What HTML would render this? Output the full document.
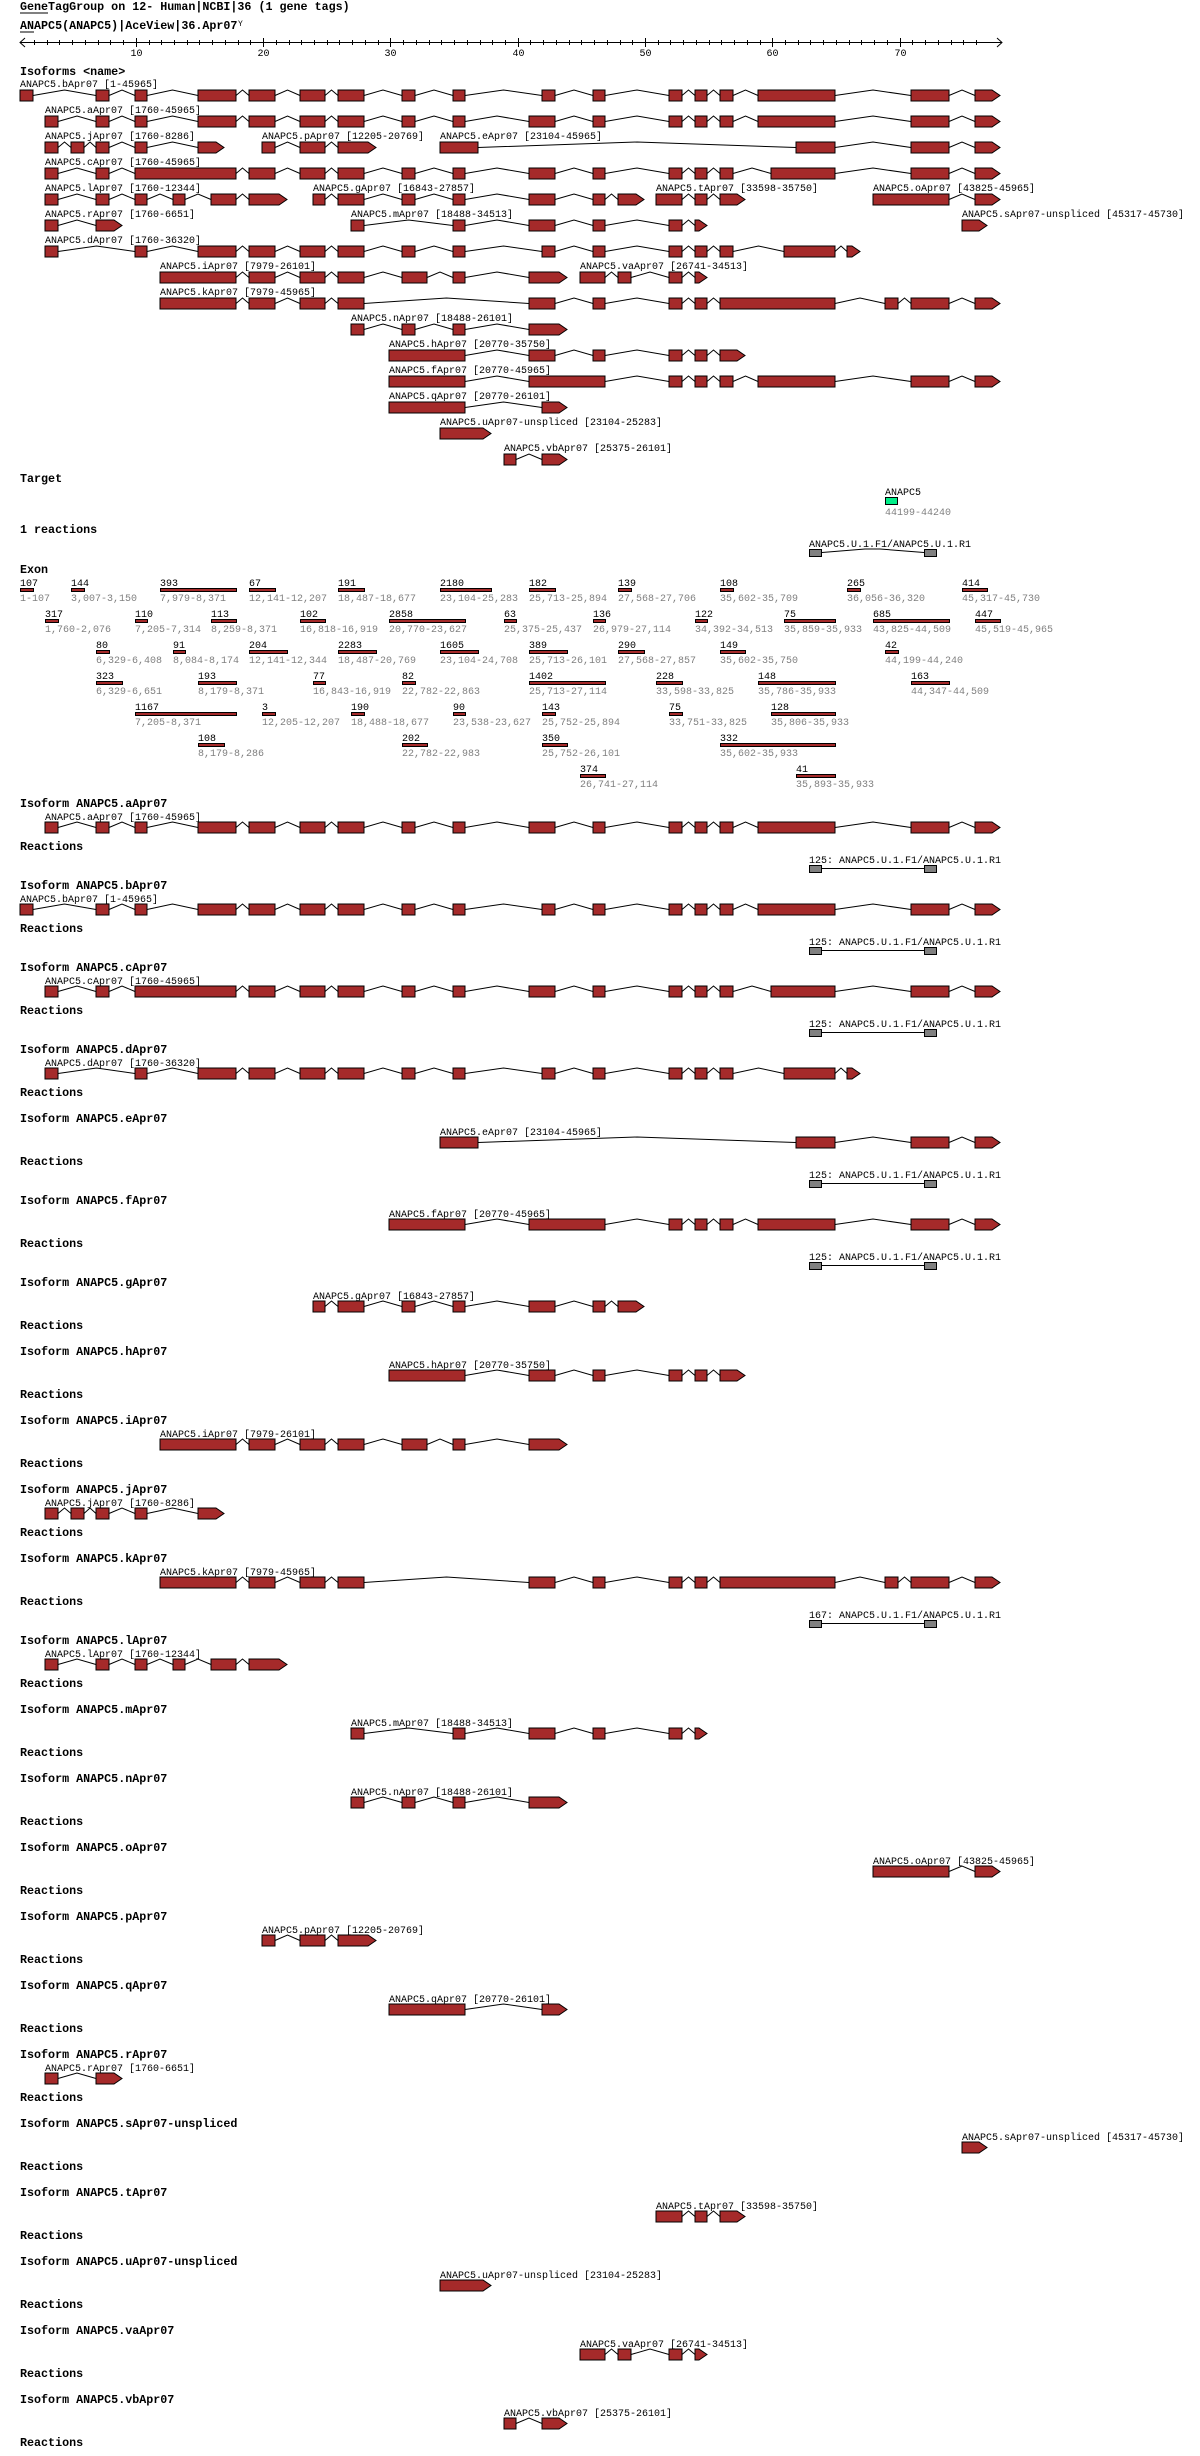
<!DOCTYPE html>
<html><head><meta charset="utf-8">
<style>
html,body{margin:0;padding:0;background:#fff;}
svg{display:block;}
text{font-family:"Liberation Mono",monospace;}
.t{font-size:11.7px;font-weight:bold;fill:#000;}
.l{font-size:10px;fill:#000;}
.g{font-size:10px;fill:#808080;}
</style></head><body>
<div id="c"></div>
<script>
var W=1200,H=2456,o=[];
function T(x,y,s,c){o.push('<text x="'+x+'" y="'+y+'" class="'+c+'">'+s.replace(/</g,'&lt;').replace(/>/g,'&gt;')+'</text>');}
function gene(ex,top,lastArrow){
  var mid=top+5.5,b=top+11;
  for(var i=0;i<ex.length;i++){
    var x0=ex[i][0],x1=ex[i][1];
    if(i<ex.length-1){var nx=ex[i+1][0];var m=(x1+nx)/2;
      o.push('<polyline points="'+x1+','+mid+' '+m+','+top+' '+nx+','+mid+'" fill="none" stroke="#000" stroke-width="1"/>');}
    if(i==ex.length-1&&lastArrow){var a=Math.max(x0,x1-8);
      o.push('<polygon points="'+x0+','+top+' '+a+','+top+' '+x1+','+mid+' '+a+','+b+' '+x0+','+b+'" fill="#a52a2a" stroke="#000" stroke-width="1"/>');}
    else o.push('<rect x="'+x0+'" y="'+top+'" width="'+(x1-x0)+'" height="11" fill="#a52a2a" stroke="#000" stroke-width="1"/>');
  }
}
var I={
a:["ANAPC5.aApr07 [1760-45965]",[[45,58],[96,109],[135,147],[198,236],[249,275],[300,325],[338,364],[402,415],[453,465],[529,555],[593,605],[669,682],[695,707],[720,733],[758,835],[911,949],[975,1000]]],
b:["ANAPC5.bApr07 [1-45965]",[[20,33],[96,109],[135,147],[198,236],[249,275],[300,325],[338,364],[402,415],[453,465],[542,555],[593,605],[669,682],[695,707],[720,733],[758,835],[911,949],[975,1000]]],
c:["ANAPC5.cApr07 [1760-45965]",[[45,58],[96,109],[135,236],[249,275],[300,325],[338,364],[402,415],[453,465],[529,555],[593,605],[669,682],[695,707],[720,733],[771,835],[911,949],[975,1000]]],
d:["ANAPC5.dApr07 [1760-36320]",[[45,58],[135,147],[198,236],[249,275],[300,325],[338,364],[402,415],[453,465],[542,555],[593,605],[669,682],[695,707],[720,733],[784,835],[847,860]]],
e:["ANAPC5.eApr07 [23104-45965]",[[440,478],[796,835],[911,949],[975,1000]]],
f:["ANAPC5.fApr07 [20770-45965]",[[389,465],[529,605],[669,682],[695,707],[720,733],[758,835],[911,949],[975,1000]]],
g:["ANAPC5.gApr07 [16843-27857]",[[313,325],[338,364],[402,415],[453,465],[529,555],[593,605],[618,644]]],
h:["ANAPC5.hApr07 [20770-35750]",[[389,465],[529,555],[593,605],[669,682],[695,707],[720,745]]],
i:["ANAPC5.iApr07 [7979-26101]",[[160,236],[249,275],[300,325],[338,364],[402,427],[453,465],[529,567]]],
j:["ANAPC5.jApr07 [1760-8286]",[[45,58],[71,84],[96,109],[135,147],[198,224]]],
k:["ANAPC5.kApr07 [7979-45965]",[[160,236],[249,275],[300,325],[338,364],[529,555],[593,605],[669,682],[695,707],[720,835],[885,898],[911,949],[975,1000]]],
l:["ANAPC5.lApr07 [1760-12344]",[[45,58],[96,109],[135,147],[173,185],[211,236],[249,287]]],
m:["ANAPC5.mApr07 [18488-34513]",[[351,364],[453,465],[529,555],[593,605],[669,682],[695,707]]],
n:["ANAPC5.nApr07 [18488-26101]",[[351,364],[402,415],[453,465],[529,567]]],
o:["ANAPC5.oApr07 [43825-45965]",[[873,949],[975,1000]]],
p:["ANAPC5.pApr07 [12205-20769]",[[262,275],[300,325],[338,376]]],
q:["ANAPC5.qApr07 [20770-26101]",[[389,465],[542,567]]],
r:["ANAPC5.rApr07 [1760-6651]",[[45,58],[96,122]]],
s:["ANAPC5.sApr07-unspliced [45317-45730]",[[962,987]]],
t:["ANAPC5.tApr07 [33598-35750]",[[656,682],[695,707],[720,745]]],
u:["ANAPC5.uApr07-unspliced [23104-25283]",[[440,491]]],
va:["ANAPC5.vaApr07 [26741-34513]",[[580,605],[618,631],[669,682],[695,707]]],
vb:["ANAPC5.vbApr07 [25375-26101]",[[504,516],[542,567]]]
};
// header
T(20,10,"GeneTagGroup on 12- Human|NCBI|36 (1 gene tags)","t");
o.push('<line x1="20" y1="13" x2="48" y2="13" stroke="#000"/>');
T(20,29,"ANAPC5(ANAPC5)|AceView|36.Apr07","t");
o.push('<line x1="20" y1="32" x2="34" y2="32" stroke="#000"/>');
o.push('<text x="238" y="26" style="font-size:8px;font-family:Liberation Mono,monospace">Y</text>');
// axis
o.push('<line x1="20" y1="42.5" x2="1002" y2="42.5" stroke="#000"/>');
o.push('<polyline points="25,38 20,42.5 25,47" fill="none" stroke="#000"/><polyline points="997,38 1002,42.5 997,47" fill="none" stroke="#000"/>');
for(var u=2;u<=76;u++){var x=Math.round(135.8+(u-10)*12.73)+0.5;
  if(u%10==0){o.push('<line x1="'+x+'" y1="38" x2="'+x+'" y2="47" stroke="#000"/>');T(x-6,56,String(u),"l");}
  else o.push('<line x1="'+x+'" y1="40" x2="'+x+'" y2="45" stroke="#000"/>');}
T(20,75,"Isoforms <name>","t");
// overview rows
var rows=[["b"],["a"],["j","p","e"],["c"],["l","g","t","o"],["r","m","s"],["d"],["i","va"],["k"],["n"],["h"],["f"],["q"],["u"],["vb"]];
rows.forEach(function(r,ri){r.forEach(function(k){var d=I[k];T(d[1][0][0],87+26*ri,d[0],"l");gene(d[1],90+26*ri,true);});});
// target
T(20,482,"Target","t");
T(885,495,"ANAPC5","l");
o.push('<rect x="885.5" y="497.5" width="12" height="7" fill="#00ee88" stroke="#000"/>');
T(885,515,"44199-44240","g");
T(20,533,"1 reactions","t");
T(809,547,"ANAPC5.U.1.F1/ANAPC5.U.1.R1","l");
o.push('<polyline points="822,552.5 865,549 880,549 924,552.5" fill="none" stroke="#000"/>');
o.push('<rect x="809.5" y="549.5" width="12" height="7" fill="#808080" stroke="#000"/><rect x="924.5" y="549.5" width="12" height="7" fill="#808080" stroke="#000"/>');
T(20,573,"Exon","t");
var EX=[
[[20,33,"107","1-107"],[71,84,"144","3,007-3,150"],[160,236,"393","7,979-8,371"],[249,275,"67","12,141-12,207"],[338,364,"191","18,487-18,677"],[440,491,"2180","23,104-25,283"],[529,555,"182","25,713-25,894"],[618,631,"139","27,568-27,706"],[720,733,"108","35,602-35,709"],[847,860,"265","36,056-36,320"],[962,987,"414","45,317-45,730"]],
[[45,58,"317","1,760-2,076"],[135,147,"110","7,205-7,314"],[211,236,"113","8,259-8,371"],[300,325,"102","16,818-16,919"],[389,465,"2858","20,770-23,627"],[504,516,"63","25,375-25,437"],[593,605,"136","26,979-27,114"],[695,707,"122","34,392-34,513"],[784,835,"75","35,859-35,933"],[873,949,"685","43,825-44,509"],[975,1000,"447","45,519-45,965"]],
[[96,109,"80","6,329-6,408"],[173,185,"91","8,084-8,174"],[249,287,"204","12,141-12,344"],[338,376,"2283","18,487-20,769"],[440,478,"1605","23,104-24,708"],[529,567,"389","25,713-26,101"],[618,644,"290","27,568-27,857"],[720,745,"149","35,602-35,750"],[885,898,"42","44,199-44,240"]],
[[96,122,"323","6,329-6,651"],[198,236,"193","8,179-8,371"],[313,325,"77","16,843-16,919"],[402,415,"82","22,782-22,863"],[529,605,"1402","25,713-27,114"],[656,682,"228","33,598-33,825"],[758,835,"148","35,786-35,933"],[911,949,"163","44,347-44,509"]],
[[135,236,"1167","7,205-8,371"],[262,275,"3","12,205-12,207"],[351,364,"190","18,488-18,677"],[453,465,"90","23,538-23,627"],[542,555,"143","25,752-25,894"],[669,682,"75","33,751-33,825"],[771,835,"128","35,806-35,933"]],
[[198,224,"108","8,179-8,286"],[402,427,"202","22,782-22,983"],[542,567,"350","25,752-26,101"],[720,835,"332","35,602-35,933"]],
[[580,605,"374","26,741-27,114"],[796,835,"41","35,893-35,933"]]];
EX.forEach(function(r,ri){r.forEach(function(e){var y=586+31*ri;T(e[0],y,e[2],"l");
  o.push('<rect x="'+(e[0]+0.5)+'" y="'+(y+2.5)+'" width="'+(e[1]-e[0])+'" height="3" fill="#a52a2a" stroke="#000"/>');T(e[0],y+15,e[3],"g");});});
// sections
var S=[["a",800,"125"],["b",882,"125"],["c",964,"125"],["d",1046],["e",1115,"125"],["f",1197,"125"],["g",1279],["h",1348],["i",1417],["j",1486],["k",1555,"167"],["l",1637],["m",1706],["n",1775],["o",1844],["p",1913],["q",1982],["r",2051],["s",2120],["t",2189],["u",2258],["va",2327],["vb",2396]];
S.forEach(function(s){var k=s[0],Y=s[1],d=I[k];
  var nm=d[0].split(" ")[0].replace("Apr07","Apr07");
  T(20,Y+7,"Isoform "+nm,"t");
  T(d[1][0][0],Y+20,d[0],"l");
  gene(d[1],Y+22,true);
  T(20,Y+50,"Reactions","t");
  if(s[2]){T(809,Y+63,s[2]+": ANAPC5.U.1.F1/ANAPC5.U.1.R1","l");
    o.push('<line x1="822" y1="'+(Y+68.5)+'" x2="924" y2="'+(Y+68.5)+'" stroke="#000"/>');
    o.push('<rect x="809.5" y="'+(Y+65.5)+'" width="12" height="7" fill="#808080" stroke="#000"/><rect x="924.5" y="'+(Y+65.5)+'" width="12" height="7" fill="#808080" stroke="#000"/>');}
});
document.getElementById("c").innerHTML='<svg xmlns="http://www.w3.org/2000/svg" width="'+W+'" height="'+H+'" viewBox="0 0 '+W+' '+H+'">'+o.join("")+'</svg>';
</script>
</body></html>
